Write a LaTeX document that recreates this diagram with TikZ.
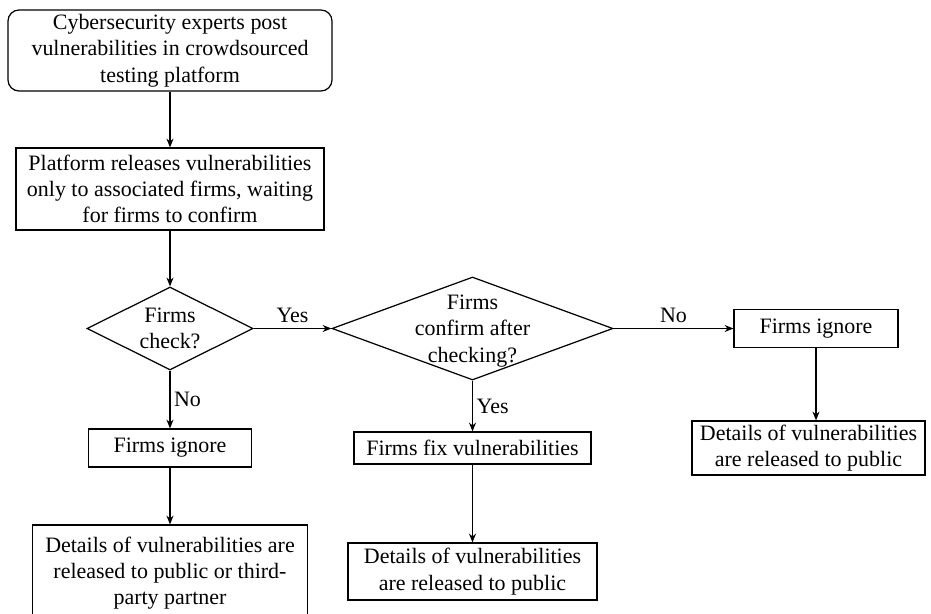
\documentclass[tikz,border=0pt]{standalone}
\usepackage{fontspec}
\setmainfont{Liberation Serif}
\usetikzlibrary{shapes.geometric,arrows.meta}

\tikzset{
  box/.style={draw, line width=0.7pt, inner sep=0pt, align=center},
  decision/.style={draw, line width=0.7pt, diamond, inner sep=0pt},
  flow/.style={line width=0.7pt, -{Stealth[length=5pt,width=4pt]}},
  lbl/.style={inner sep=2pt}
}

\begin{document}
\begin{tikzpicture}[font=\fontsize{12.5}{15}\selectfont]
        \useasboundingbox (0,0) rectangle (18.62,-12.28);
        % top row
        \node[box, rounded corners=0.22cm, minimum width=6.48cm, minimum height=1.62cm] (post) at (3.40,-1.01) {Cybersecurity experts post\\vulnerabilities in crowdsourced\\testing platform};
        \node[box, minimum width=6.16cm, minimum height=1.64cm] (release) at (3.40,-3.78) {Platform releases vulnerabilities\\only to associated firms, waiting\\for firms to confirm};
        % decisions
        \node[decision, minimum width=3.32cm, minimum height=1.66cm] (check) at (3.40,-6.57) {};
        \node[align=center, inner sep=0pt] (checktxt) at (check) {Firms\\check?};
        \node[decision, minimum width=5.62cm, minimum height=2.06cm] (confirm) at (9.45,-6.57) {};
        \node[align=center, inner sep=0pt] (confirmtxt) at ([yshift=-0.05cm]confirm) {Firms\\confirm after\\checking?};
        % outcomes
        \node[box, minimum width=3.26cm, minimum height=0.76cm] (ignoreL) at (3.40,-8.96) {Firms ignore};
        \node[box, minimum width=5.50cm, minimum height=1.92cm] (detailsL) at (3.40,-11.46) {Details of vulnerabilities are\\released to public or third-\\party partner};
        \node[box, minimum width=4.74cm, minimum height=0.64cm] (fix) at (9.45,-8.96) {Firms fix vulnerabilities};
        \node[box, minimum width=4.98cm, minimum height=1.14cm] (detailsM) at (9.45,-11.43) {Details of vulnerabilities\\are released to public};
        \node[box, minimum width=3.28cm, minimum height=0.76cm] (ignoreR) at (16.32,-6.57) {Firms ignore};
        \node[box, minimum width=4.66cm, minimum height=1.08cm] (detailsR) at (16.17,-8.96) {Details of vulnerabilities\\are released to public};
        % arrows
        \draw[flow] (post) -- (release);
        \draw[flow] (release) -- (check);
        \draw[flow] (check) -- node[lbl, above=1pt] {Yes} (confirm);
        \draw[flow] (check) -- node[lbl, right] {No} (ignoreL);
        \draw[flow] (ignoreL) -- (detailsL);
        \draw[flow] (confirm) -- node[lbl, right] {Yes} (fix);
        \draw[flow] (fix) -- (detailsM);
        \draw[flow] (confirm) -- node[lbl, above=1pt] {No} (ignoreR);
        \draw[flow] (ignoreR.south) -- (ignoreR.south |- detailsR.north);
     \end{tikzpicture}
\end{document}
